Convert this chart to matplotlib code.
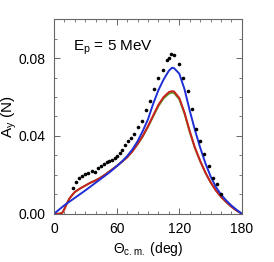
import numpy as np
import matplotlib.pyplot as plt
from matplotlib.ticker import MultipleLocator

plt.rcParams['font.family'] = ['Liberation Sans', 'DejaVu Sans']
plt.rcParams['mathtext.fontset'] = 'custom'
plt.rcParams['mathtext.rm'] = 'Liberation Sans'
plt.rcParams['mathtext.it'] = 'Liberation Sans'

# measured data points
exp_deg = [18, 21, 24, 27, 30, 33, 36, 39, 42, 45, 48, 50.5, 53, 55.5, 58, 60.5, 63,
           65.5, 68, 71, 74, 77, 80, 84, 88, 92, 96, 100, 104, 108, 110, 112, 115,
           120, 124, 128, 132, 136, 140, 144, 148, 152, 156, 160]
exp_ay = [0.0133, 0.0163, 0.0182, 0.0195, 0.0203, 0.0211, 0.0220, 0.0214, 0.0235,
          0.0243, 0.0258, 0.0264, 0.0270, 0.0277, 0.0286, 0.0298, 0.0310, 0.0330,
          0.0355, 0.0372, 0.0390, 0.0412, 0.0444, 0.0478, 0.0532, 0.0580, 0.0640,
          0.0700, 0.0740, 0.0790, 0.0802, 0.0822, 0.0814, 0.0772, 0.0700, 0.0630,
          0.0537, 0.0438, 0.0372, 0.0308, 0.0247, 0.0182, 0.0152, 0.0100]

# blue calculation
blue_deg = [0, 5, 10, 15, 20, 25, 30, 35, 40, 45, 50, 55, 60, 65, 70, 75, 80, 85, 90,
            95, 100, 105, 110, 113, 115, 120, 125, 130, 135, 140, 145, 150, 155, 160,
            165, 170, 175, 180]
blue_ay = [0, 0.0022, 0.0044, 0.0063, 0.0082, 0.0101, 0.0120, 0.0140, 0.0160, 0.0180,
           0.0200, 0.0221, 0.0244, 0.0268, 0.0296, 0.0330, 0.0372, 0.0425, 0.0485,
           0.0565, 0.0635, 0.0690, 0.0735, 0.0750, 0.0748, 0.0720, 0.0640, 0.0530,
           0.0430, 0.0340, 0.0260, 0.0192, 0.0138, 0.0098, 0.0068, 0.0042, 0.0020, 0]

# red and green calculations
red_deg = [0, 5, 8, 10, 13, 15, 18, 20, 25, 30, 35, 40, 45, 50, 55, 60, 65, 70, 75, 80,
           85, 90, 95, 100, 105, 110, 113, 115, 120, 125, 130, 135, 140, 145, 150, 155,
           160, 165, 170, 175, 180]
red_ay = [0, 0.0, 0.0005, 0.0025, 0.0060, 0.0080, 0.0100, 0.0112, 0.0130, 0.0145,
          0.0160, 0.0172, 0.0187, 0.0205, 0.0225, 0.0245, 0.0267, 0.0290, 0.0320,
          0.0358, 0.0400, 0.0450, 0.0505, 0.0560, 0.0600, 0.0625, 0.0630, 0.0628,
          0.0595, 0.0520, 0.0425, 0.0340, 0.0272, 0.0212, 0.0162, 0.0120, 0.0087,
          0.0060, 0.0036, 0.0016, 0]
green_ay = [0, 0.0, 0.0005, 0.0025, 0.0060, 0.0080, 0.0100, 0.0112, 0.0130, 0.0145,
            0.0160, 0.0172, 0.0187, 0.0205, 0.0225, 0.0245, 0.0267, 0.0290, 0.0320,
            0.0356, 0.0397, 0.0446, 0.0500, 0.0553, 0.0593, 0.0617, 0.0622, 0.0620,
            0.0588, 0.0514, 0.0420, 0.0336, 0.0270, 0.0211, 0.0161, 0.0120, 0.0087,
            0.0060, 0.0036, 0.0016, 0]

fig = plt.figure(figsize=(2.74, 2.62), dpi=100)
ax = fig.add_axes([0.197, 0.184, 0.686, 0.743])

ax.plot(red_deg, green_ay, color='#5aa02c', lw=1.4)
ax.plot(red_deg, red_ay, color='#cc1f1f', lw=1.4)
ax.plot(blue_deg, blue_ay, color='#1f2fd6', lw=1.4)
ax.plot(exp_deg, exp_ay, 'o', color='black', ms=2.6, mew=0)

ax.set_xlim(0, 180)
ax.set_ylim(0, 0.1)
ax.xaxis.set_major_locator(MultipleLocator(60))
ax.xaxis.set_minor_locator(MultipleLocator(10))
ax.yaxis.set_major_locator(MultipleLocator(0.04))
ax.yaxis.set_minor_locator(MultipleLocator(0.01))
ax.yaxis.set_major_formatter(plt.FuncFormatter(lambda v, p: f'{v:.2f}'))
ax.tick_params(which='both', direction='in', top=True, right=True, labelsize=10,
               color='#666666')
ax.tick_params(which='major', length=4, width=0.7)
ax.tick_params(which='minor', length=2, width=0.6)
ax.tick_params(axis='x', which='major', pad=6)
ax.tick_params(axis='y', which='major', pad=6)
for s in ax.spines.values():
    s.set_color('#666666')
    s.set_linewidth(0.8)

ax.set_xlabel(r'$\Theta_{\rm c.m.}$ (deg)', fontsize=10, labelpad=3)
ax.set_ylabel(r'A$_{\rm y}$ (N)', fontsize=11)
ax.yaxis.set_label_coords(-0.185, 0.5)
ax.text(0.1, 0.84, r'E$_{\rm p}$ = 5 MeV', transform=ax.transAxes, fontsize=11)

fig.savefig('out.png', dpi=100)
